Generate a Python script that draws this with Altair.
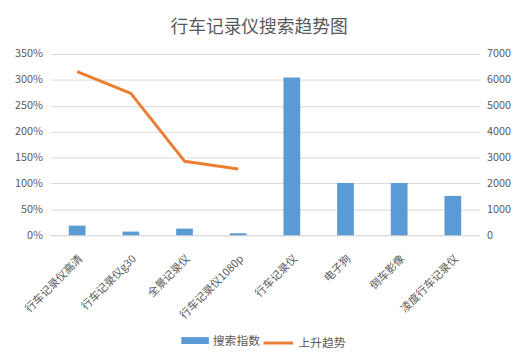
import altair as alt
import pandas as pd

categories = ["行车记录仪高清", "行车记录仪g30", "全景记录仪", "行车记录仪1080p",
              "行车记录仪", "电子狗", "倒车影像", "凌度行车记录仪"]
search_index = [370, 140, 255, 75, 6090, 2020, 2020, 1520]
trend = [3.16, 2.74, 1.43, 1.28, None, None, None, None]
pct_ticks = [0, 0.5, 1.0, 1.5, 2.0, 2.5, 3.0, 3.5]
idx_ticks = [0, 1000, 2000, 3000, 4000, 5000, 6000, 7000]

df = pd.DataFrame({"cat": categories, "idx": search_index, "trend": trend})

FONT = "Noto Sans CJK SC"
GRAY = "#595959"
GRID = "#D9D9D9"

x_enc = alt.X(
    "cat:N", sort=categories, title=None,
    scale=alt.Scale(paddingInner=0, paddingOuter=0),
    axis=alt.Axis(labelAngle=-45, labelFontSize=11, labelColor=GRAY, labelFont=FONT,
                  ticks=False, domainColor=GRID, labelPadding=22, labelOffset=4,
                  labelAlign="right", labelBaseline="middle", labelLimit=200),
)

bars = alt.Chart(df).transform_calculate(s="'搜索指数'").mark_bar(size=17).encode(
    x=x_enc,
    y=alt.Y("idx:Q", title=None, scale=alt.Scale(domain=[0, 7000], nice=False),
            axis=alt.Axis(orient="right", values=idx_ticks, format="d", grid=False,
                          ticks=False, domain=False, labelFontSize=11, labelColor=GRAY,
                          labelFont=FONT, labelPadding=7)),
    fill=alt.Fill("s:N", scale=alt.Scale(domain=["搜索指数"], range=["#5B9BD5"]),
                  legend=alt.Legend(orient="none", legendX=133, legendY=277, title=None,
                                    symbolType="M-1,-0.25H1V0.25H-1Z", symbolSize=784,
                                    symbolStrokeWidth=0, labelFontSize=12, labelColor=GRAY,
                                    labelFont=FONT, labelOffset=4, padding=0)),
)

line = alt.Chart(df).transform_calculate(s="'上升趋势'").mark_line(
    strokeWidth=3, strokeJoin="round").encode(
    x=x_enc,
    y=alt.Y("trend:Q", title=None, scale=alt.Scale(domain=[0, 3.5], nice=False),
            axis=alt.Axis(orient="left", values=pct_ticks, format=".0%", grid=True,
                          gridColor=GRID, ticks=False, domain=False, labelFontSize=11,
                          labelColor=GRAY, labelFont=FONT, labelPadding=8)),
    stroke=alt.Stroke("s:N", scale=alt.Scale(domain=["上升趋势"], range=["#ED7D31"]),
                      legend=alt.Legend(orient="none", legendX=215, legendY=277, title=None,
                                        symbolType="stroke", symbolSize=900,
                                        symbolStrokeWidth=3, labelFontSize=12,
                                        labelColor=GRAY, labelFont=FONT, labelOffset=4,
                                        padding=0)),
)

chart = alt.layer(bars, line).resolve_scale(y="independent", fill="independent",
                                            stroke="independent").properties(
    width=436, height=184,
    title=alt.TitleParams("行车记录仪搜索趋势图", fontSize=18, color=GRAY, font=FONT,
                          fontWeight="normal", anchor="middle", dx=-6, offset=11),
    autosize=alt.AutoSizeParams(type="none"),
    padding={"left": 43, "top": 44, "right": 43, "bottom": 125},
).configure_view(stroke=None)

chart.save("out.html", embed_options={"renderer": "svg", "actions": False})
